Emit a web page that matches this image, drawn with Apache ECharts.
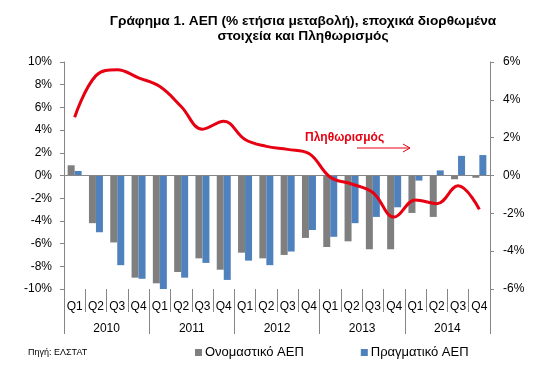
<!DOCTYPE html>
<html>
<head>
<meta charset="utf-8">
<script src="https://cdn.jsdelivr.net/npm/echarts@6/dist/echarts.min.js"></script>
<style>
html,body{margin:0;padding:0;background:#fff;}
#chart{width:536px;height:367px;}
</style>
</head>
<body>
<div id="chart"></div>
<script>
var quarters = ['Q1','Q2','Q3','Q4','Q1','Q2','Q3','Q4','Q1','Q2','Q3','Q4','Q1','Q2','Q3','Q4','Q1','Q2','Q3','Q4'];
var years = ['2010','2011','2012','2013','2014'];
var nominalGDP = [0.9,-4.2,-5.9,-9.0,-9.5,-8.5,-7.3,-8.3,-6.8,-7.3,-7.0,-5.5,-6.3,-5.8,-6.5,-6.5,-3.3,-3.65,-0.33,-0.2];
var realGDP = [0.4,-5.0,-7.9,-9.1,-10.0,-9.0,-7.7,-9.2,-7.5,-7.9,-6.7,-4.8,-5.4,-4.2,-3.65,-2.8,-0.45,0.45,1.73,1.8];
var inflation = [3.08,5.28,5.59,5.16,4.7,3.65,2.45,2.87,1.9,1.54,1.38,1.16,-0.09,-0.45,-0.9,-2.2,-1.29,-1.49,-0.54,-1.79];
var leftTicks = {min:-10, max:10, interval:2};
var rightTicks = {min:-6, max:6, interval:2};

var FONT = '"Liberation Sans", Arial, sans-serif';
var axisGray = '#868686';
var chart = echarts.init(document.getElementById('chart'), null, {renderer:'canvas'});
chart.setOption({
  animation:false,
  textStyle:{fontFamily:FONT},
  title:{
    text:'Γράφημα 1. ΑΕΠ (% ετήσια μεταβολή), εποχικά διορθωμένα\nστοιχεία και Πληθωρισμός',
    left:298, top:9, textAlign:'center',
    textStyle:{fontFamily:FONT, fontSize:13.7, fontWeight:'bold', color:'#000', lineHeight:15}
  },
  legend:{
    data:['Ονομαστικό ΑΕΠ','Πραγματικό ΑΕΠ'],
    left:190, top:341, itemWidth:7, itemHeight:7, itemGap:57, icon:'rect',
    textStyle:{fontFamily:FONT, fontSize:13, color:'#000', padding:[0,0,0,-2]}
  },
  grid:{left:64, right:46, top:62, bottom:78, containLabel:false},
  xAxis:[{
    type:'category', data:quarters, position:'bottom',
    axisLine:{show:false, onZero:false},
    axisTick:{show:true, interval:0, length:23, lineStyle:{color:axisGray}},
    axisLabel:{interval:0, margin:12, fontSize:12, color:'#000', fontFamily:FONT}
  },{
    type:'category', data:years, position:'bottom', gridIndex:0,
    axisLine:{show:false, onZero:false},
    axisTick:{show:true, interval:0, length:45, lineStyle:{color:axisGray}},
    axisLabel:{interval:0, margin:34, fontSize:12, color:'#000', fontFamily:FONT}
  }],
  yAxis:[{
    type:'value', min:leftTicks.min, max:leftTicks.max, interval:leftTicks.interval,
    axisLine:{show:true, lineStyle:{color:axisGray}},
    axisTick:{show:true, length:4, lineStyle:{color:axisGray}},
    splitLine:{show:false},
    axisLabel:{formatter:'{value}%', fontSize:12, color:'#000', margin:12, fontFamily:FONT}
  },{
    type:'value', min:rightTicks.min, max:rightTicks.max, interval:rightTicks.interval, position:'right',
    axisLine:{show:true, lineStyle:{color:axisGray}},
    axisTick:{show:true, length:4, lineStyle:{color:axisGray}},
    splitLine:{show:false},
    axisLabel:{formatter:'{value}%', fontSize:12, color:'#000', margin:13, fontFamily:FONT}
  }],
  series:[{
    name:'Ονομαστικό ΑΕΠ', type:'bar', data:nominalGDP, xAxisIndex:0, yAxisIndex:0,
    barWidth:7, barGap:'0%', itemStyle:{color:'#7f7f7f'},
    markLine:{silent:true, symbol:['none','none'], label:{show:false},
      lineStyle:{color:axisGray, width:1, type:'solid'}, data:[{yAxis:0}]}
  },{
    name:'Πραγματικό ΑΕΠ', type:'bar', data:realGDP, xAxisIndex:0, yAxisIndex:0,
    barWidth:7, barGap:'0%', itemStyle:{color:'#4f81bd'}
  },{
    name:'Πληθωρισμός', type:'line', data:inflation, xAxisIndex:0, yAxisIndex:1,
    smooth:0.4, symbol:'none', lineStyle:{color:'#e60012', width:3}, z:5
  }],
  graphic:[{
    type:'text', left:305, top:132,
    style:{text:'Πληθωρισμός', fill:'#e60012', font:'bold 12px "Liberation Sans", Arial, sans-serif'}
  },{
    type:'polyline', shape:{points:[[357,148],[410,148]]}, style:{stroke:'#e60012', lineWidth:1, fill:null}
  },{
    type:'polyline', shape:{points:[[403,144],[410,148],[403,152]]}, style:{stroke:'#e60012', lineWidth:1, fill:null}
  },{
    type:'text', left:28, top:348,
    style:{text:'Πηγή: ΕΛΣΤΑΤ', fill:'#000', font:'9px "Liberation Sans", Arial, sans-serif'}
  }]
});
</script>
</body>
</html>
